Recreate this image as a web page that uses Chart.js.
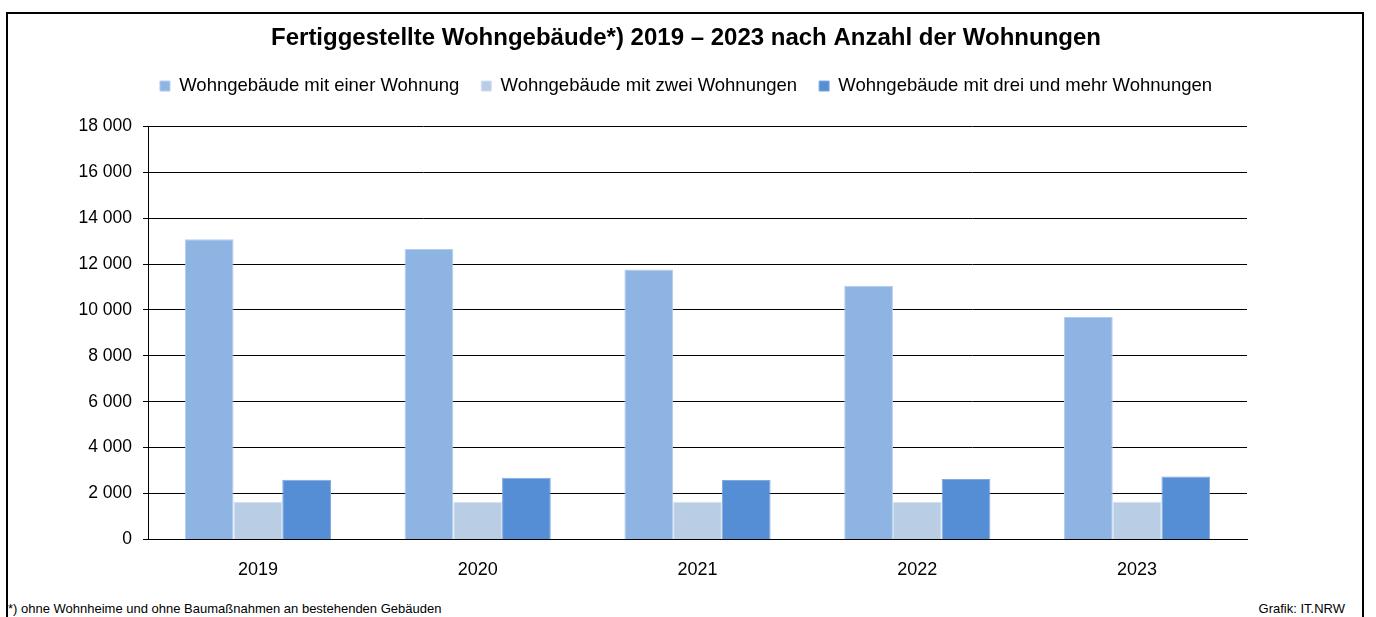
<!DOCTYPE html>
<html>
<head>
<meta charset="utf-8">
<script src="https://cdn.jsdelivr.net/npm/chart.js@4"></script>
<style>
  body { margin: 0; background: #fff; font-family: "Liberation Sans", Arial, sans-serif; }
  #frame { position: absolute; left: 6px; top: 12px; width: 1358px; height: 640px; border: 2px solid #000; border-bottom: none; box-sizing: border-box; }
  #wrap { position: absolute; left: 0; top: 0; width: 1376px; height: 594px; }
  .foot { position: absolute; top: 601px; font-size: 13px; color: #000; }
</style>
</head>
<body>
<div id="frame"></div>
<div id="wrap"><canvas id="chart"></canvas></div>
<div class="foot" style="left:8px">*) ohne Wohnheime und ohne Baumaßnahmen an bestehenden Gebäuden</div>
<div class="foot" style="right:31px">Grafik: IT.NRW</div>
<script>
var years = ['2019', '2020', '2021', '2022', '2023'];
var einWohnung = [13080, 12650, 11760, 11050, 9690];
var zweiWohnungen = [1630, 1630, 1640, 1630, 1640];
var dreiUndMehr = [2600, 2685, 2585, 2630, 2745];

function spaced(v) {
    return String(v).replace(/\B(?=(\d{3})+(?!\d))/g, ' ');
}

Chart.defaults.font.family = '"Liberation Sans", Arial, sans-serif';
Chart.defaults.color = '#000';

const data = {
    labels: years,
    datasets: [
        {
            label: 'Wohngebäude mit einer Wohnung',
            backgroundColor: '#8EB4E3',
            borderColor: '#B4CDEE',
            borderWidth: 1,
            data: einWohnung
        },
        {
            label: 'Wohngebäude mit zwei Wohnungen',
            backgroundColor: '#B9CDE5',
            borderColor: '#D3E0F0',
            borderWidth: 1,
            data: zweiWohnungen
        },
        {
            label: 'Wohngebäude mit drei und mehr Wohnungen',
            backgroundColor: '#558ED5',
            borderColor: '#7FA9E0',
            borderWidth: 1,
            data: dreiUndMehr
        }
    ]
};

// empty axes, only used to keep the plot off the right and top edges
const spacer = {
    display: true,
    grid: { display: false },
    border: { display: false },
    ticks: { display: false }
};

const config = {
    type: 'bar',
    data: data,
    options: {
        responsive: false,
        animation: false,
        layout: { padding: { left: 8, right: 12, top: 24, bottom: 1 } },
        categoryPercentage: 0.665,
        barPercentage: 1.0,
        plugins: {
            title: {
                display: true,
                text: 'Fertiggestellte Wohngebäude*) 2019 – 2023 nach Anzahl der Wohnungen',
                font: { size: 24, weight: 'bold' },
                padding: { top: 0, bottom: 2 }
            },
            legend: {
                labels: {
                    boxWidth: 10,
                    boxHeight: 10,
                    font: { size: 18.5 },
                    padding: 22
                }
            },
            tooltip: { enabled: false }
        },
        scales: {
            x: {
                grid: { display: false },
                border: { display: true, color: '#000', width: 1 },
                ticks: { font: { size: 18 }, padding: 12 }
            },
            y: {
                min: 0,
                max: 18000,
                ticks: {
                    stepSize: 2000,
                    font: { size: 17.5 },
                    padding: 11,
                    callback: function (v) { return spaced(v); }
                },
                grid: { color: '#000', tickLength: 5, tickColor: '#000' },
                border: { display: true, color: '#000', width: 1 },
                afterFit: function (s) { s.width = 140; }
            },
            top: Object.assign({ type: 'category', position: 'top', afterFit: function (s) { s.height = 21; } }, spacer),
            right: Object.assign({ type: 'linear', position: 'right', afterFit: function (s) { s.width = 117; } }, spacer)
        }
    }
};

const canvas = document.getElementById('chart');
canvas.width = 1376;
canvas.height = 594;
const chart = new Chart(canvas, config);
</script>
</body>
</html>
